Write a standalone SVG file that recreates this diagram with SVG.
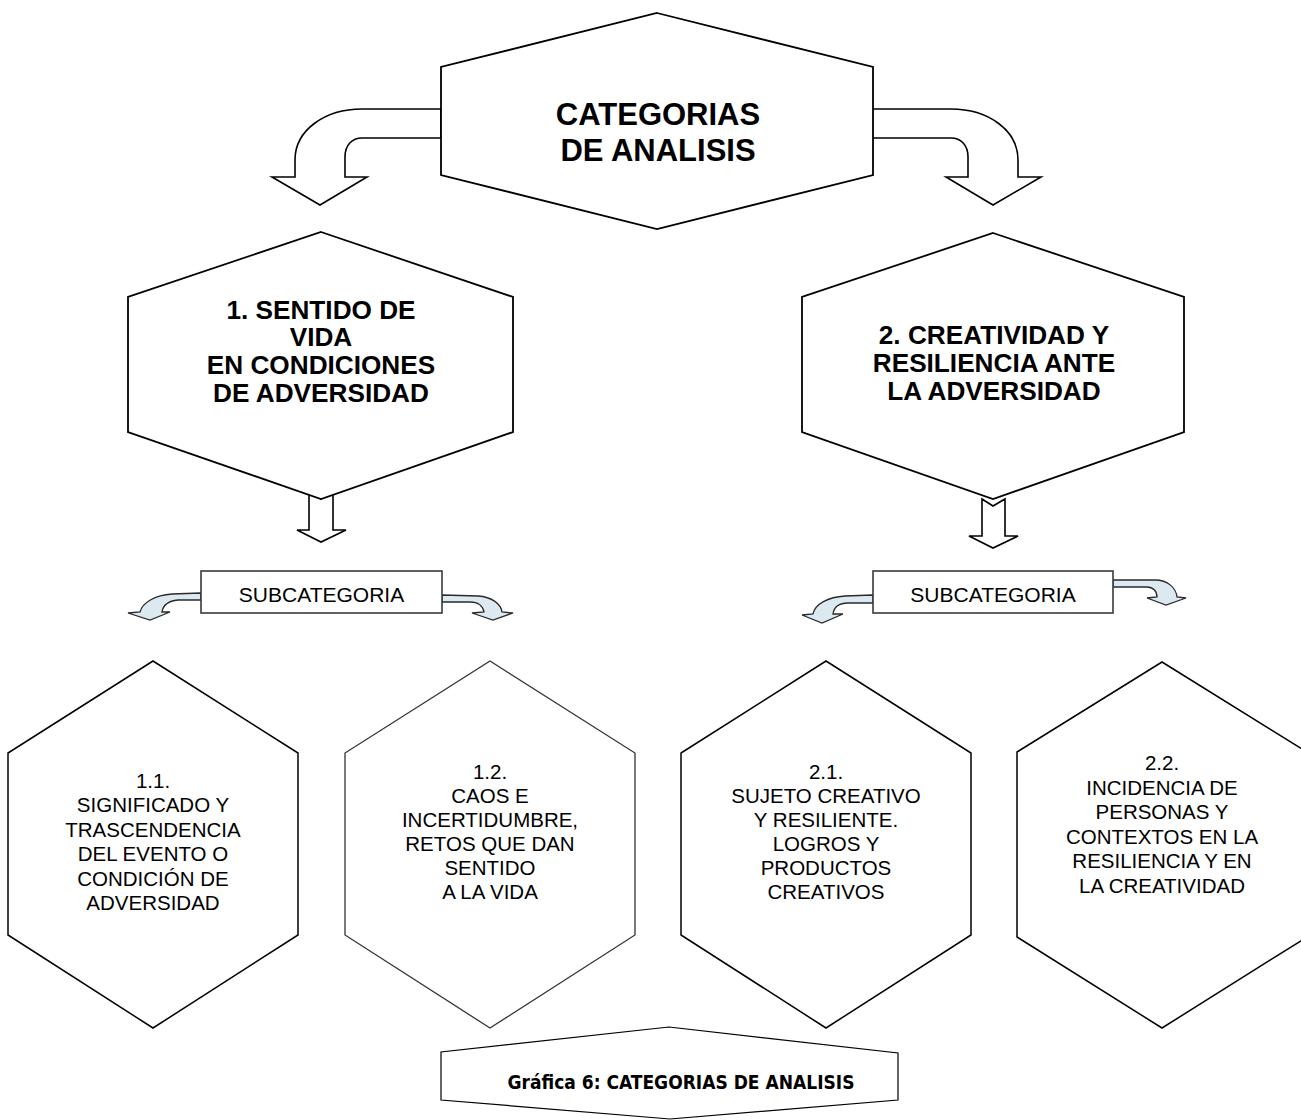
<svg xmlns="http://www.w3.org/2000/svg" width="1301" height="1120" viewBox="0 0 1301 1120">
<style>
.hex{fill:#fff;stroke:#000;stroke-width:1.8;stroke-linejoin:miter}
.hex3{fill:#fff;stroke:#000;stroke-width:1.5}
.arr{fill:#fff;stroke:#000;stroke-width:1.6;stroke-linejoin:miter}
.carr{fill:#dde9f0;stroke:#2a2a2a;stroke-width:1.3;stroke-linejoin:miter}
.box{fill:#fff;stroke:#3a3a3a;stroke-width:1.6}
.t1{font-family:"Liberation Sans",Arial,sans-serif;font-weight:bold;font-size:31px;text-anchor:middle;fill:#000}
.t2{font-family:"Liberation Sans",Arial,sans-serif;font-weight:bold;font-size:26.2px;text-anchor:middle;fill:#000}
.t3{font-family:"Liberation Sans",Arial,sans-serif;font-size:20.5px;text-anchor:middle;fill:#000}
.tc{font-family:"DejaVu Sans Condensed","DejaVu Sans",sans-serif;font-stretch:condensed;font-weight:bold;font-size:19px;text-anchor:middle;fill:#000}
</style>
<rect width="1301" height="1120" fill="#fff"/>
<g id="connectors">
  <path class="arr" d="M441,109 L362,109 C325,109 295,130 295,160 L295,177 L272,177 L320,205 L367,177 L345,177 L345,157 C345,145 352,138 362,138 L441,138 Z"/>
  <path class="arr" d="M872,109 L951,109 C988,109 1018,130 1018,160 L1018,177 L1041,177 L993,205 L946,177 L968,177 L968,157 C968,145 961,138 951,138 L872,138 Z"/>
  <path class="arr" d="M309,491 L321,499 L333,491 L333,530 L346,530 L321,542 L297,530 L309,530 Z"/>
  <path class="arr" d="M982,499 L993,506 L1005,499 L1005,536 L1018,536 L993,548 L969,536 L982,536 Z"/>
  <path class="carr" d="M201,593 L172,594 C155,595 142,603 140,612 L128,613 L150,620 L170,612 L162,612 C163,605 168,601 178,600 L201,600 Z"/>
  <path class="carr" d="M442,595 L478,596 C492,597 501,604 502,612 L513,613 L493,620 L472,613 L484,612 C483,606 478,602 470,602 L442,602 Z"/>
  <path class="carr" d="M873,595 L845,596 C828,597 815,604 813,614 L802,615 L822,623 L843,614 L833,614 C834,607 839,603 848,603 L873,603 Z"/>
  <path class="carr" d="M1113,580 L1155,580 C1168,580 1176,588 1177,597 L1186,598 L1166,605 L1147,598 L1157,597 C1157,591 1153,587 1147,587 L1113,587 Z"/>
</g>
<g id="n0">
  <polygon class="hex" points="657,13 873,67 873,175 657,229 441,175 441,67"/>
  <text class="t1" x="658" y="125">CATEGORIAS</text>
  <text class="t1" x="658" y="161">DE ANALISIS</text>
</g>
<g id="n1">
  <polygon class="hex" points="321,232 513,297 513,432 321,499 128,432 128,297"/>
  <text class="t2" x="321" y="318.5">1. SENTIDO DE</text>
  <text class="t2" x="321" y="346.3">VIDA</text>
  <text class="t2" x="321" y="374.1">EN CONDICIONES</text>
  <text class="t2" x="321" y="401.9">DE ADVERSIDAD</text>
</g>
<g id="n2">
  <polygon class="hex" points="993,233 1184,297 1184,432 993,499 802,432 802,297"/>
  <text class="t2" x="994" y="344">2. CREATIVIDAD Y</text>
  <text class="t2" x="994" y="371.8">RESILIENCIA ANTE</text>
  <text class="t2" x="994" y="399.6">LA ADVERSIDAD</text>
</g>
<g id="sub1">
  <rect class="box" x="201" y="571" width="241" height="42"/>
  <text class="t3" x="321.5" y="602" style="font-size:21px">SUBCATEGORIA</text>
</g>
<g id="sub2">
  <rect class="box" x="873" y="571" width="240" height="42"/>
  <text class="t3" x="993" y="602" style="font-size:21px">SUBCATEGORIA</text>
</g>
<g id="n11">
  <polygon class="hex3" points="153,661 298,753 298,935 153,1028 8,935 8,753"/>
  <text class="t3" x="153" y="788">1.1.</text>
  <text class="t3" x="153" y="812.4">SIGNIFICADO Y</text>
  <text class="t3" x="153" y="836.8">TRASCENDENCIA</text>
  <text class="t3" x="153" y="861.2">DEL EVENTO O</text>
  <text class="t3" x="153" y="885.6">CONDICIÓN DE</text>
  <text class="t3" x="153" y="910">ADVERSIDAD</text>
</g>
<g id="n12">
  <polygon class="hex3" points="490,661 635,753 635,935 490,1028 345,935 345,753" style="stroke:#333;stroke-width:1.3"/>
  <text class="t3" x="490" y="779">1.2.</text>
  <text class="t3" x="490" y="803">CAOS E</text>
  <text class="t3" x="490" y="827">INCERTIDUMBRE,</text>
  <text class="t3" x="490" y="851">RETOS QUE DAN</text>
  <text class="t3" x="490" y="875">SENTIDO</text>
  <text class="t3" x="490" y="899">A LA VIDA</text>
</g>
<g id="n21">
  <polygon class="hex3" points="826,661 971,753 971,935 826,1028 681,935 681,753"/>
  <text class="t3" x="826" y="779">2.1.</text>
  <text class="t3" x="826" y="803">SUJETO CREATIVO</text>
  <text class="t3" x="826" y="827">Y RESILIENTE.</text>
  <text class="t3" x="826" y="851">LOGROS Y</text>
  <text class="t3" x="826" y="875">PRODUCTOS</text>
  <text class="t3" x="826" y="899">CREATIVOS</text>
</g>
<g id="n22">
  <polygon class="hex3" points="1162,662 1307,752 1307,937 1162,1028 1017,937 1017,752"/>
  <text class="t3" x="1162" y="770">2.2.</text>
  <text class="t3" x="1162" y="794.6">INCIDENCIA DE</text>
  <text class="t3" x="1162" y="819.2">PERSONAS Y</text>
  <text class="t3" x="1162" y="843.8">CONTEXTOS EN LA</text>
  <text class="t3" x="1162" y="868.4">RESILIENCIA Y EN</text>
  <text class="t3" x="1162" y="893">LA CREATIVIDAD</text>
</g>
<g id="caption">
  <polygon points="669,1027 898,1053 898,1100 670,1119 441,1100 441,1052" fill="#fff" stroke="#000" stroke-width="1.2"/>
  <text class="tc" x="681" y="1089">Gráfica 6: CATEGORIAS DE ANALISIS</text>
</g>
</svg>
